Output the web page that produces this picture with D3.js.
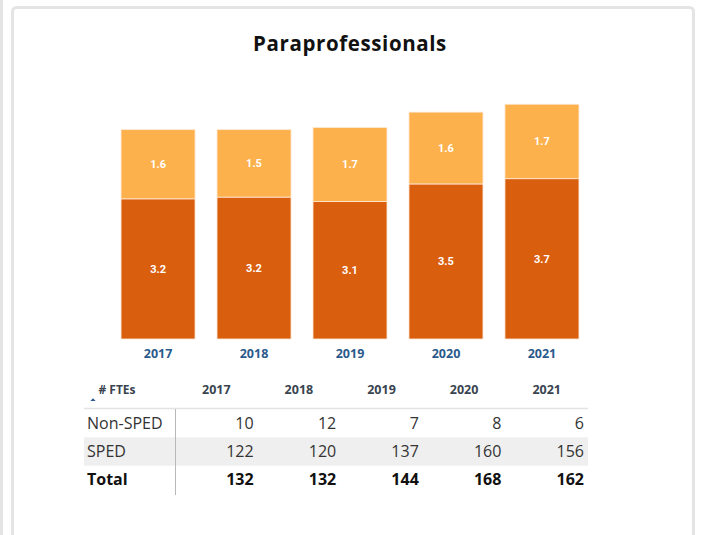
<!DOCTYPE html>
<html>
<head>
<meta charset="utf-8">
<script src="https://cdn.jsdelivr.net/npm/d3@7"></script>
<style>
  body { margin: 0; background: #fff; }
  svg { display: block; }
</style>
</head>
<body>
<div id="chart"></div>
<script>
// chart data
var years = ["2017", "2018", "2019", "2020", "2021"];
var spedRatio = [3.2, 3.24, 3.14, 3.54, 3.66];
var nonSpedRatio = [1.58, 1.54, 1.69, 1.64, 1.7];

// table data
var rowLabels = ["Non-SPED", "SPED", "Total"];
var nonSped = [10, 12, 7, 8, 6];
var sped = [122, 120, 137, 160, 156];
var totals = [132, 132, 144, 168, 162];

var W = 701, H = 535;
var svg = d3.select("#chart").append("svg")
  .attr("width", W)
  .attr("height", H);

// panel frames
svg.append("line")
  .attr("x1", 1.5).attr("x2", 1.5).attr("y1", 0).attr("y2", H)
  .attr("stroke", "#e4e4e4").attr("stroke-width", 3);
svg.append("rect")
  .attr("x", 12.5).attr("y", 7.5)
  .attr("width", 681).attr("height", 560)
  .attr("rx", 4)
  .attr("fill", "#fff")
  .attr("stroke", "#e4e4e4").attr("stroke-width", 3);

// title
svg.append("text")
  .attr("x", 350).attr("y", 51)
  .attr("text-anchor", "middle")
  .style("font-family", "'Open Sans', sans-serif")
  .style("font-weight", "bold")
  .style("font-size", "20.5px")
  .style("letter-spacing", "0.6px")
  .style("fill", "#111")
  .text("Paraprofessionals");

// scales
var x = d3.scaleBand()
  .domain(years)
  .range([110, 590])
  .paddingInner(0.229)
  .paddingOuter(0.115);

var y = d3.scaleLinear()
  .domain([0, 5.5])
  .range([339, 339 - 5.5 * 43.8]);

var stackData = years.map(function (yr, i) {
  return { year: yr, sped: spedRatio[i], nonsped: nonSpedRatio[i] };
});
var series = d3.stack().keys(["sped", "nonsped"])(stackData);
var colors = { sped: "#d95e0e", nonsped: "#fdb14d" };
var fmt = d3.format(".1f");

var g = svg.append("g");
series.forEach(function (s) {
  var layer = g.append("g");
  layer.selectAll("rect")
    .data(s)
    .enter()
    .append("rect")
      .attr("x", function (d) { return x(d.data.year); })
      .attr("y", function (d) { return y(d[1]); })
      .attr("width", x.bandwidth())
      .attr("height", function (d) { return y(d[0]) - y(d[1]); })
      .attr("fill", colors[s.key])
      .attr("stroke", "#ffe9d6")
      .attr("stroke-width", 0.8);
  layer.selectAll("text")
    .data(s)
    .enter()
    .append("text")
      .attr("x", function (d) { return x(d.data.year) + x.bandwidth() / 2; })
      .attr("y", function (d) { return (y(d[0]) + y(d[1])) / 2; })
      .attr("dy", "0.35em")
      .attr("text-anchor", "middle")
      .style("font-family", "Roboto, sans-serif")
      .style("font-weight", "bold")
      .style("font-size", "11px")
      .style("fill", "#fff")
      .text(function (d) { return fmt(d[1] - d[0]); });
});

// x axis
var xAxis = svg.append("g")
  .attr("transform", "translate(0,339)")
  .call(d3.axisBottom(x).tickSize(0).tickPadding(10));
xAxis.select(".domain").remove();
xAxis.selectAll("text")
  .style("font-family", "'Open Sans', sans-serif")
  .style("font-weight", "bold")
  .style("font-size", "12.5px")
  .style("fill", "#2b5a8c");

// table
var colX = d3.scaleBand()
  .domain(years)
  .range([175, 588]);
var rowY = d3.scaleBand()
  .domain(rowLabels)
  .range([409, 494]);
var rowValues = [nonSped, sped, totals];

var tbl = svg.append("g");

// SPED row background
tbl.append("rect")
  .attr("x", 84).attr("y", rowY("SPED"))
  .attr("width", 588 - 84).attr("height", rowY.bandwidth())
  .attr("fill", "#efefef");

// header line & separator
tbl.append("line")
  .attr("x1", 84).attr("x2", 588).attr("y1", 408.5).attr("y2", 408.5)
  .attr("stroke", "#e2e2e2").attr("stroke-width", 1.5);
tbl.append("line")
  .attr("x1", 175.5).attr("x2", 175.5).attr("y1", 409).attr("y2", 495)
  .attr("stroke", "#b8b8b8").attr("stroke-width", 1);

// header
tbl.append("text")
  .attr("x", 117).attr("y", 394)
  .attr("text-anchor", "middle")
  .style("font-family", "'Open Sans', sans-serif")
  .style("font-weight", "bold")
  .style("font-size", "12px")
  .style("fill", "#3a4450")
  .text("# FTEs");
tbl.append("path")
  .attr("d", d3.symbol(d3.symbolTriangle, 12)())
  .attr("transform", "translate(93,400) scale(1,0.6)")
  .attr("fill", "#2b5a8c");

tbl.selectAll(".hdr")
  .data(years)
  .enter()
  .append("text")
    .attr("class", "hdr")
    .attr("x", function (d) { return colX(d) + colX.bandwidth() / 2; })
    .attr("y", 394)
    .attr("text-anchor", "middle")
    .style("font-family", "'Open Sans', sans-serif")
    .style("font-weight", "bold")
    .style("font-size", "12.5px")
    .style("fill", "#3a4450")
    .text(function (d) { return d; });

rowLabels.forEach(function (lab, r) {
  var bold = lab === "Total";
  var cy = rowY(lab) + rowY.bandwidth() / 2;
  tbl.append("text")
    .attr("x", 87).attr("y", cy).attr("dy", "0.35em")
    .style("font-family", "'Open Sans', sans-serif")
    .style("font-weight", bold ? "bold" : "normal")
    .style("font-size", "16px")
    .style("fill", bold ? "#111" : "#333")
    .text(lab);
  tbl.selectAll(".v" + r)
    .data(rowValues[r])
    .enter()
    .append("text")
      .attr("x", function (d, i) { return colX(years[i]) + colX.bandwidth() - 4; })
      .attr("y", cy).attr("dy", "0.35em")
      .attr("text-anchor", "end")
      .style("font-family", "'Open Sans', sans-serif")
      .style("font-weight", bold ? "bold" : "normal")
      .style("font-size", "16px")
      .style("fill", bold ? "#111" : "#333")
      .text(function (d) { return d; });
});
</script>
</body>
</html>
